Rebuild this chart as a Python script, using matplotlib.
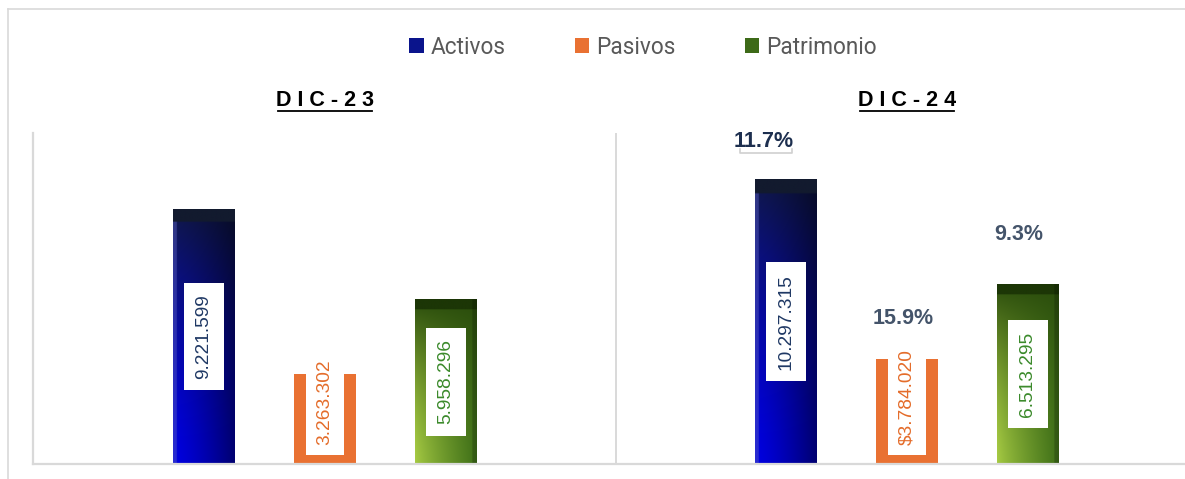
import numpy as np
import matplotlib
matplotlib.use("Agg")
import matplotlib.pyplot as plt
from matplotlib.patches import Patch
from matplotlib.lines import Line2D
from matplotlib.colors import to_rgb

# ---------------- data ----------------
periods = ["DIC-23", "DIC-24"]
series = ["Activos", "Pasivos", "Patrimonio"]
activos = [9221599, 10297315]
pasivos = [3263302, 3784020]
patrimonio = [5958296, 6513295]
value_labels = {
    "Activos": ["9.221.599", "10.297.315"],
    "Pasivos": ["3.263.302", "$3.784.020"],
    "Patrimonio": ["5.958.296", "6.513.295"],
}
growth_labels = ["11.7%", "15.9%", "9.3%"]   # DIC-24 vs DIC-23 per series

# ---------------- figure ----------------
W, H = 1185, 479
fig = plt.figure(figsize=(W / 100, H / 100), dpi=100)
fig.patch.set_facecolor("white")
ax = fig.add_axes([33 / W, 1 - 464 / H, 1 - 33 / W, (464 - 133) / H])

GRID = "#d9d9d9"
group_gap = 582 / 121
offsets = [-1, 0, 1]
bw = 62 / 121
scale = 1e6
ylim_top = 331 / 27.65

ax.set_xlim(-2.413, -2.413 + (1185 - 33) / 121)
ax.set_ylim(0, ylim_top)
for s in ["top", "right"]:
    ax.spines[s].set_visible(False)
for s in ["left", "bottom"]:
    ax.spines[s].set_color(GRID)
    ax.spines[s].set_linewidth(1.6)
ax.set_xticks([])
ax.set_yticks([])
ax.axvline(group_gap / 2, color=GRID, lw=1.4)


def gradient(kind, n=160):
    t = np.linspace(0, 1, n)[:, None, None]   # 0 bottom -> 1 top
    s = np.linspace(0, 1, n)[None, :, None]   # 0 left -> 1 right
    if kind == "Activos":
        bottom = np.array(to_rgb("#0000e0"))
        top = np.array(to_rgb("#101848"))
        col = bottom * (1 - t ** 1.4) + top * t ** 1.4
        col = col * (1 - 0.5 * s ** 1.3)
        left = np.array(to_rgb("#5a60c0"))
        col = np.where(s < 0.06, 0.55 * col + 0.45 * left, col)
        col = np.where(t > 0.955, np.array(to_rgb("#121a2e")), col)
    else:
        bl = np.array(to_rgb("#a8cc44"))
        br = np.array(to_rgb("#3f7018"))
        top = np.array(to_rgb("#2a4c0c"))
        base = bl * (1 - s ** 0.8) + br * s ** 0.8
        col = base * (1 - t ** 1.5) + top * t ** 1.5
        col = np.where(t > 0.94, np.array(to_rgb("#1c3606")), col)
        col = np.where(s > 0.93, col * 0.8, col)
    col = np.broadcast_to(col, (n, n, 3))
    return np.clip(col, 0, 1)


data = {"Activos": activos, "Pasivos": pasivos, "Patrimonio": patrimonio}
label_colors = {"Activos": "#1f3864", "Pasivos": "#e46c2a", "Patrimonio": "#3b8a2b"}
FONT = "Liberation Sans"

for gi, period in enumerate(periods):
    center = gi * group_gap
    for si, name in enumerate(series):
        x = center + offsets[si]
        v = data[name][gi] / scale
        if name == "Pasivos":
            ax.bar(x, v, width=bw, color="#e97132", zorder=2)
            ax.text(x, 0.69, value_labels[name][gi], rotation=90, ha="center",
                    va="bottom", fontsize=13.8, family=FONT, color=label_colors[name],
                    zorder=4,
                    bbox=dict(boxstyle="square,pad=0.55", fc="white", ec="none"))
        else:
            bar = ax.bar(x, v, width=bw, color="none", zorder=2)[0]
            im = ax.imshow(gradient(name), extent=[x - bw / 2, x + bw / 2, 0, v],
                           origin="lower", aspect="auto", zorder=2, interpolation="bilinear")
            im.set_clip_path(bar)
            ax.text(x, v / 2, value_labels[name][gi], rotation=90, ha="center",
                    va="center", fontsize=13.8, family=FONT, color=label_colors[name],
                    zorder=4,
                    bbox=dict(boxstyle="square,pad=0.6", fc="white", ec="none"))
    ax.text(center, 1.0967, " ".join(period), transform=ax.get_xaxis_transform(),
            ha="center", va="center", fontsize=15.5, fontweight="bold",
            family=FONT, color="black")

# underlines of titles
for cx in [324.5, 907]:
    fig.add_artist(Line2D([(cx - 47) / W, (cx + 47) / W], [1 - 111 / H] * 2,
                          color="black", lw=1.3))

# growth labels (DIC-24)
growth_offsets = [(-22, 38), (-4, 41), (-9, 49)]
growth_colors = ["#1d2f4f", "#44546a", "#44546a"]
for si, name in enumerate(series):
    x = group_gap + offsets[si]
    v = data[name][1] / scale
    dx, dy = growth_offsets[si]
    ax.annotate(growth_labels[si], xy=(x, v), xytext=(dx, dy),
                textcoords="offset pixels", ha="center", va="center",
                fontsize=15.5, fontweight="bold", family=FONT,
                color=growth_colors[si], annotation_clip=False, zorder=5)

# small leader under 11.7%
fig.add_artist(Line2D([740 / W, 740 / W, 792 / W, 792 / W],
                      [1 - 149 / H, 1 - 153 / H, 1 - 153 / H, 1 - 149 / H],
                      color="#d0d0d0", lw=1.2))

# outer frame lines
fig.add_artist(Line2D([8 / W, 8 / W], [0, 1 - 9 / H], color=GRID, lw=1.2))
fig.add_artist(Line2D([8 / W, 1], [1 - 9 / H, 1 - 9 / H], color=GRID, lw=1.2))

# legend
handles = [Patch(facecolor="#0a148c", edgecolor="none"),
           Patch(facecolor="#e97132", edgecolor="none"),
           Patch(facecolor="#3d6a18", edgecolor="none")]
fig.legend(handles, series, loc="center", bbox_to_anchor=(643 / W, 1 - 47 / H),
           ncol=3, frameon=False, labelcolor="#595959",
           handlelength=0.65, handleheight=0.65, handletextpad=0.3,
           columnspacing=3.05, prop={"family": "Roboto", "size": 16.3})

fig.savefig("out.png", dpi=100, facecolor="white")
